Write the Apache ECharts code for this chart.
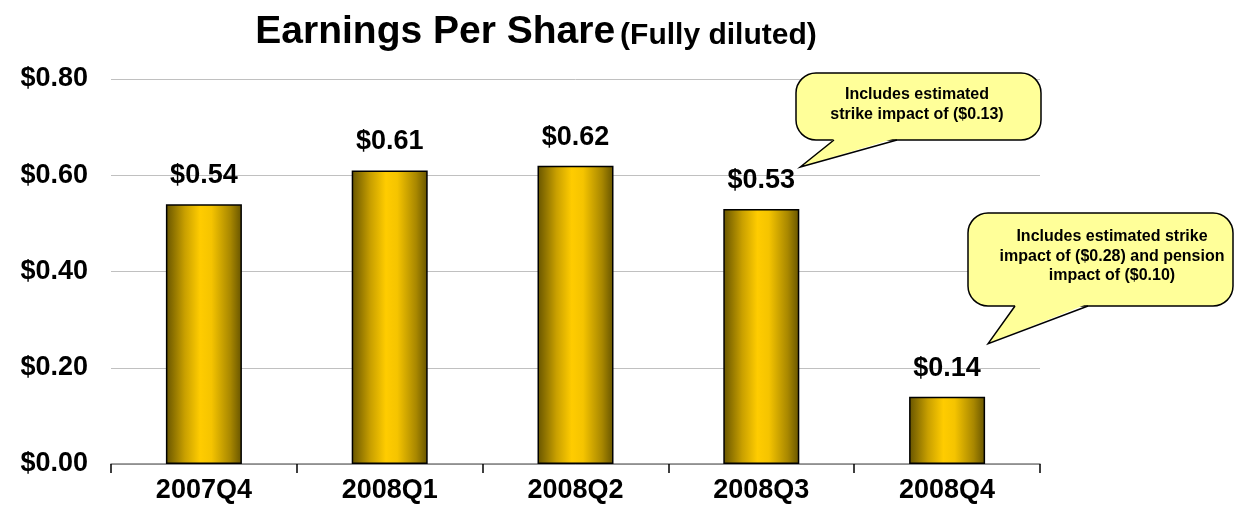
<!DOCTYPE html>
<html>
<head>
<meta charset="utf-8">
<script src="https://cdn.jsdelivr.net/npm/echarts@6/dist/echarts.min.js"></script>
<style>
  html, body { margin: 0; padding: 0; background: #fff; }
  #chart { width: 1236px; height: 519px; }
</style>
</head>
<body>
<div id="chart"></div>
<script>
// Quarterly diluted EPS
const quarters = ['2007Q4', '2008Q1', '2008Q2', '2008Q3', '2008Q4'];
const eps = [0.54, 0.61, 0.62, 0.53, 0.14];
const yTicks = [0, 0.2, 0.4, 0.6, 0.8];

// Callout notes, each anchored to a quarter's bar
const noteQ3 = ['Includes estimated', 'strike impact of ($0.13)'];
const noteQ4 = ['Includes estimated strike', 'impact of ($0.28) and pension', 'impact of ($0.10)'];

const FONT = 'Arial, "Liberation Sans", sans-serif';
const money = v => '$' + v.toFixed(2);

const chart = echarts.init(document.getElementById('chart'));

const barFill = new echarts.graphic.LinearGradient(0, 0, 1, 0, [
  { offset: 0, color: '#665400' },
  { offset: 0.25, color: '#c9a000' },
  { offset: 0.45, color: '#ffcc00' },
  { offset: 0.6, color: '#f5c400' },
  { offset: 0.85, color: '#a88700' },
  { offset: 1, color: '#665400' }
]);

chart.setOption({
  animation: false,
  title: {
    text: '{a|Earnings Per Share} {b|(Fully diluted)}',
    left: 531,
    textAlign: 'center',
    top: 8,
    textStyle: {
      rich: {
        a: { fontFamily: FONT, fontWeight: 'bold', fontSize: 39, color: '#000' },
        b: { fontFamily: FONT, fontWeight: 'bold', fontSize: 30, color: '#000', padding: [6, 0, 0, 0] }
      }
    }
  },
  grid: { left: 111, right: 196, top: 79, bottom: 55 },
  xAxis: {
    type: 'category',
    data: quarters,
    axisLine: { lineStyle: { color: '#808080', width: 1.5 } },
    axisTick: { show: true, length: 9, lineStyle: { color: '#000', width: 1.5 } },
    axisLabel: { fontFamily: FONT, fontWeight: 'bold', fontSize: 27, color: '#000', margin: 13 }
  },
  yAxis: {
    type: 'value',
    min: yTicks[0],
    max: yTicks[yTicks.length - 1],
    interval: 0.2,
    axisLine: { show: false },
    axisTick: { show: false },
    splitLine: { lineStyle: { color: '#c0c0c0', width: 1 } },
    axisLabel: {
      fontFamily: FONT, fontWeight: 'bold', fontSize: 27, color: '#000', margin: 23,
      formatter: v => money(v)
    }
  },
  series: [{
    type: 'bar',
    data: eps,
    barWidth: 76,
    itemStyle: { color: barFill, borderColor: '#000', borderWidth: 1.5 },
    label: {
      show: true,
      position: 'top',
      distance: 15,
      fontFamily: FONT, fontWeight: 'bold', fontSize: 27, color: '#000',
      formatter: p => money(p.value)
    }
  }]
});

// Rounded speech bubble: box, wedge tail (fill covers the box border at its base), tail outline, text
function callout(idx, box, tail, lines, text) {
  const anchor = chart.convertToPixel({ seriesIndex: 0 }, [idx, eps[idx]]);
  const tip = [anchor[0] + tail.dx, anchor[1] + tail.dy];
  const fill = '#ffff99';
  const els = [
    {
      type: 'rect',
      shape: { x: box.x0, y: box.y0, width: box.x1 - box.x0, height: box.y1 - box.y0, r: box.r },
      style: { fill: fill, stroke: '#000', lineWidth: 1.5 },
      z: 10
    },
    {
      type: 'polygon',
      shape: { points: [[tail.b1 + 1, box.y1 - 2], tip, [tail.b2 - 1, box.y1 - 2]] },
      style: { fill: fill, stroke: null },
      z: 11
    },
    {
      type: 'polyline',
      shape: { points: [[tail.b1, box.y1], tip, [tail.b2, box.y1]] },
      style: { fill: null, stroke: '#000', lineWidth: 1.5, lineJoin: 'miter' },
      z: 12
    }
  ];
  lines.forEach((t, i) => {
    els.push({
      type: 'text',
      x: text.x,
      y: text.top + i * text.lineH,
      style: {
        text: t, fill: '#000', font: 'bold 16px ' + FONT,
        textAlign: 'center', textVerticalAlign: 'middle'
      },
      z: 13
    });
  });
  return els;
}

const elements = []
  .concat(callout(3,
    { x0: 796, y0: 73, x1: 1041, y1: 140, r: 20 },
    { b1: 834, b2: 897, dx: 39, dy: -42 },
    noteQ3,
    { x: 917, top: 95, lineH: 20 }))
  .concat(callout(4,
    { x0: 968, y0: 213, x1: 1233, y1: 306, r: 20 },
    { b1: 1015, b2: 1088, dx: 41, dy: -53 },
    noteQ4,
    { x: 1112, top: 237, lineH: 19.5 }));

chart.setOption({ graphic: elements });
</script>
</body>
</html>
